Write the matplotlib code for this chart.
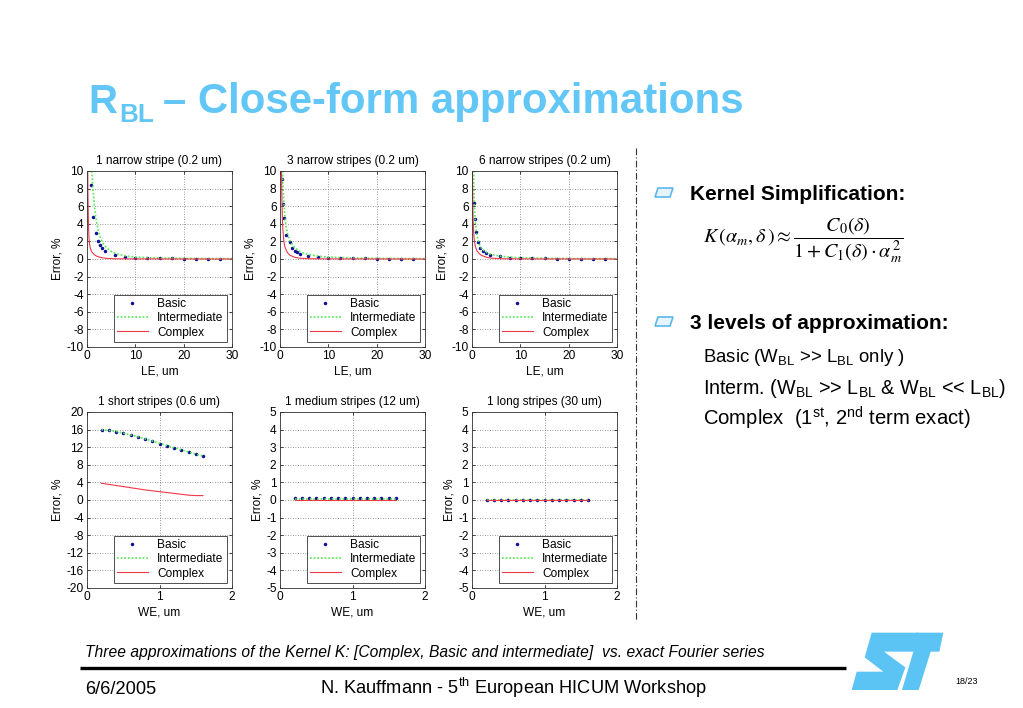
import matplotlib
matplotlib.use("Agg")
import matplotlib.pyplot as plt
from matplotlib.patches import Polygon
from matplotlib.lines import Line2D
from matplotlib import font_manager

# ---------------- data ----------------
# Row 1 : error vs LE (um)
le_basic_1 = [0.8, 1.2, 1.8, 2.3, 2.7, 3.2, 3.7, 5.8, 7.8, 10.0, 12.5, 15.0, 17.5, 20.0, 22.5, 25.0, 27.5]
basic_1 = [8.4, 4.8, 3.0, 2.1, 1.6, 1.3, 0.95, 0.45, 0.26, 0.15, 0.10, 0.08, 0.06, 0.05, 0.04, 0.04, 0.03]
le_int_1 = [1.0, 1.2, 1.5, 1.8, 2.2, 2.6, 3.0, 3.5, 4.0, 5.0, 6.0, 8.0, 10.0, 12.5, 15.0, 20.0, 25.0, 30.0]
int_1 = [10.0, 8.3, 6.2, 4.8, 3.5, 2.7, 2.1, 1.6, 1.3, 0.85, 0.6, 0.35, 0.22, 0.15, 0.11, 0.07, 0.05, 0.04]
le_cx_1 = [0.15, 0.2, 0.3, 0.4, 0.5, 0.7, 1.0, 1.5, 2.0, 3.0, 4.0, 6.0, 10.0, 20.0, 30.0]
cx_1 = [10.0, 7.0, 4.0, 2.5, 1.8, 1.2, 0.8, 0.5, 0.32, 0.15, 0.07, 0.02, 0.01, 0.0, 0.0]

le_basic_2 = [0.4, 0.6, 0.9, 1.3, 2.0, 2.5, 3.1, 3.6, 4.1, 5.8, 7.8, 10.0, 12.5, 15.0, 17.5, 20.0, 22.5, 25.0, 27.5]
basic_2 = [9.1, 6.3, 4.7, 2.7, 1.9, 1.3, 0.9, 0.75, 0.6, 0.35, 0.2, 0.15, 0.1, 0.08, 0.06, 0.05, 0.04, 0.04, 0.03]
le_int_2 = [0.5, 0.6, 0.8, 1.0, 1.3, 1.7, 2.2, 3.0, 4.0, 5.0, 6.0, 8.0, 10.0, 15.0, 20.0, 30.0]
int_2 = [10.0, 8.5, 6.3, 4.9, 3.5, 2.6, 1.9, 1.3, 0.9, 0.65, 0.5, 0.32, 0.22, 0.11, 0.07, 0.04]
le_cx_2 = [0.3, 0.4, 0.5, 0.6, 0.8, 1.0, 1.5, 2.0, 3.0, 4.0, 6.0, 10.0, 30.0]
cx_2 = [10.0, 6.5, 4.5, 3.3, 2.0, 1.4, 0.75, 0.45, 0.2, 0.1, 0.03, 0.01, 0.0]

le_basic_3 = [0.5, 0.7, 0.9, 1.2, 1.7, 2.3, 2.9, 3.7, 5.8, 7.9, 10.0, 12.5, 15.0, 17.5, 20.0, 22.5, 25.0, 27.5]
basic_3 = [6.4, 4.5, 3.1, 1.9, 1.3, 0.9, 0.7, 0.5, 0.3, 0.17, 0.12, 0.08, 0.06, 0.05, 0.04, 0.03, 0.03, 0.02]
le_int_3 = [0.3, 0.4, 0.5, 0.7, 1.0, 1.5, 2.0, 3.0, 4.0, 6.0, 8.0, 10.0, 15.0, 20.0, 30.0]
int_3 = [10.0, 7.8, 6.0, 4.0, 2.7, 1.7, 1.15, 0.75, 0.5, 0.3, 0.2, 0.14, 0.08, 0.05, 0.03]
le_cx_3 = [0.1, 0.15, 0.2, 0.3, 0.4, 0.5, 0.7, 1.0, 1.5, 2.0, 3.0, 4.0, 6.0, 10.0, 30.0]
cx_3 = [10.0, 7.0, 5.0, 3.5, 2.6, 2.0, 1.4, 0.95, 0.6, 0.4, 0.2, 0.1, 0.03, 0.01, 0.0]

# Row 2 : error vs WE (um)
we = [0.2, 0.3, 0.4, 0.5, 0.6, 0.7, 0.8, 0.9, 1.0, 1.1, 1.2, 1.3, 1.4, 1.5, 1.6]
basic_4 = [15.9, 15.8, 15.5, 15.2, 14.8, 14.3, 13.8, 13.3, 12.8, 12.3, 11.8, 11.3, 10.8, 10.4, 9.9]
int_4 = [16.0, 15.8, 15.6, 15.2, 14.8, 14.4, 13.9, 13.4, 12.9, 12.4, 11.9, 11.4, 10.9, 10.4, 10.0]
cx_4 = [3.8, 3.55, 3.3, 3.05, 2.8, 2.55, 2.3, 2.1, 1.9, 1.7, 1.5, 1.3, 1.1, 1.0, 1.0]

basic_5 = [0.11, 0.11, 0.12, 0.12, 0.12, 0.13, 0.13, 0.13, 0.13, 0.13, 0.13, 0.13, 0.13, 0.13, 0.13]
int_5 = [0.03, 0.03, 0.03, 0.03, 0.03, 0.03, 0.03, 0.03, 0.03, 0.03, 0.03, 0.03, 0.03, 0.03, 0.03]
cx_5 = [0.0, 0.0, 0.0, 0.0, 0.0, 0.0, 0.0, 0.0, 0.0, 0.0, 0.0, 0.0, 0.0, 0.0, 0.0]

basic_6 = [0.02, 0.02, 0.02, 0.02, 0.02, 0.02, 0.02, 0.02, 0.02, 0.02, 0.02, 0.02, 0.02, 0.02, 0.02]
int_6 = [0.01, 0.01, 0.01, 0.01, 0.01, 0.01, 0.01, 0.01, 0.01, 0.01, 0.01, 0.01, 0.01, 0.01, 0.01]
cx_6 = [0.0, 0.0, 0.0, 0.0, 0.0, 0.0, 0.0, 0.0, 0.0, 0.0, 0.0, 0.0, 0.0, 0.0, 0.0]

panel_titles = ["1 narrow stripe (0.2 um)", "3 narrow stripes (0.2 um)", "6 narrow stripes (0.2 um)",
                "1 short stripes (0.6 um)", "1 medium stripes (12 um)", "1 long stripes (30 um)"]
legend_labels = ["Basic", "Intermediate", "Complex"]
yticks_row1 = [-10, -8, -6, -4, -2, 0, 2, 4, 6, 8, 10]
yticks_short = [-20, -16, -12, -8, -4, 0, 4, 8, 12, 16, 20]
yticks_5 = [-5, -4, -3, -2, -1, 0, 1, 2, 3, 4, 5]
xticks_le = [0, 10, 20, 30]
xticks_we = [0, 1, 2]

# ---------------- style ----------------
names = {f.name for f in font_manager.fontManager.ttflist}
BASE = "Liberation Sans" if "Liberation Sans" in names else "DejaVu Sans"
NARROW = "Liberation Sans Narrow" if "Liberation Sans Narrow" in names else BASE
plt.rcParams["font.family"] = [BASE, "DejaVu Sans"]
plt.rcParams["axes.unicode_minus"] = False

W, H = 1023, 708
fig = plt.figure(figsize=(W / 100, H / 100), dpi=100)
fig.patch.set_facecolor("white")

def fx(x):
    return x / W

def fy(y):
    return 1 - y / H

def add_ax(l, t, r, b):
    return fig.add_axes([fx(l), fy(b), (r - l) / W, (b - t) / H])

C_BASIC = "#10109a"
C_INT = "#4eea4e"
C_CX = "#ee3848"
FS = 8.6
LIGHTBLUE = "#62c6f6"

cols = [(87, 232), (280, 425), (472, 617)]
rows = [(171, 347), (412, 588)]

panels = [
    (le_basic_1, basic_1, le_int_1, int_1, le_cx_1, cx_1),
    (le_basic_2, basic_2, le_int_2, int_2, le_cx_2, cx_2),
    (le_basic_3, basic_3, le_int_3, int_3, le_cx_3, cx_3),
    (we, basic_4, we, int_4, we, cx_4),
    (we, basic_5, we, int_5, we, cx_5),
    (we, basic_6, we, int_6, we, cx_6),
]
yt = [yticks_row1, yticks_row1, yticks_row1, yticks_short, yticks_5, yticks_5]

for i, (xb, yb, xi, yi, xc, yc) in enumerate(panels):
    r, c = divmod(i, 3)
    ax = add_ax(cols[c][0], rows[r][0], cols[c][1], rows[r][1])
    ax.plot(xb, yb, linestyle="none", marker="o", markersize=1.5, color=C_BASIC, label=legend_labels[0])
    ax.plot(xi, yi, linestyle=(0, (1, 1.2)), linewidth=1.2, color=C_INT, label=legend_labels[1])
    ax.plot(xc, yc, linestyle="-", linewidth=0.8, color=C_CX, label=legend_labels[2])
    if r == 0:
        ax.set_xlim(0, 30)
        ax.set_xticks(xticks_le)
        ax.set_xlabel("LE, um", fontsize=FS, labelpad=2.5)
    else:
        ax.set_xlim(0, 2)
        ax.set_xticks(xticks_we)
        ax.set_xlabel("WE, um", fontsize=FS, labelpad=2.5)
    ax.set_ylim(yt[i][0], yt[i][-1])
    ax.set_yticks(yt[i])
    ax.set_ylabel("Error, %", fontsize=FS, labelpad=2)
    ax.set_title(panel_titles[i], fontsize=FS, pad=5)
    ax.grid(True, linestyle=(0, (1, 2)), color="#777777", linewidth=0.6)
    ax.tick_params(direction="in", length=2.5, width=0.5, labelsize=FS, pad=2.5,
                   top=True, right=True)
    for s in ax.spines.values():
        s.set_linewidth(0.6)
        s.set_color("#333333")
    leg = ax.legend(loc="lower right", fontsize=FS, fancybox=False, framealpha=1,
                    edgecolor="#333333", handlelength=2.6, labelspacing=0.2,
                    borderpad=0.25, borderaxespad=0.45, handletextpad=0.8)
    leg.get_frame().set_linewidth(0.6)

# ---------------- slide decoration ----------------
def fit(t, target_px):
    fig.canvas.draw()
    bb = t.get_window_extent()
    t.set_fontsize(t.get_fontsize() * target_px / bb.width)

# Title
t_r = fig.text(fx(88), fy(113), "R", fontsize=33, fontweight="bold", color=LIGHTBLUE,
               family=NARROW, va="baseline", ha="left")
t_bl = fig.text(fx(119), fy(122), "BL", fontsize=21, fontweight="bold", color=LIGHTBLUE,
                family=NARROW, va="baseline", ha="left")
t_rest = fig.text(fx(163), fy(113), "\u2013 Close-form approximations", fontsize=33,
                  fontweight="bold", color=LIGHTBLUE, family=NARROW, va="baseline", ha="left")
fit(t_r, 29)
fit(t_bl, 35)
fit(t_rest, 582)

# vertical dash-dot separator
fig.add_artist(Line2D([fx(636), fx(636)], [fy(148), fy(620)], transform=fig.transFigure,
                      color="#333333", linewidth=0.8, linestyle=(0, (6, 2, 1, 2))))

# bullets
def bullet(xc, yc):
    pts = [(xc - 6, yc - 5), (xc + 9, yc - 5), (xc + 6, yc + 4), (xc - 9, yc + 4)]
    fig.add_artist(Polygon([(fx(x), fy(y)) for x, y in pts], closed=True,
                           transform=fig.transFigure, facecolor="#e6f4fd",
                           edgecolor="#5cb8ea", linewidth=1.2))

bullet(664, 193)
bullet(664, 322)

RFS = 13.3
h1 = fig.text(fx(690), fy(200), "Kernel Simplification:", fontsize=13, fontweight="bold",
              va="baseline", ha="left")
fit(h1, 214)
fig.text(fx(703), fy(240),
         r"$K\,(\alpha_m,\delta\,)\approx\dfrac{C_0(\delta)}{1+C_1(\delta)\cdot\alpha_m^{\,2}}$",
         fontsize=14.5, math_fontfamily="stix", va="center", ha="left")
h2 = fig.text(fx(690), fy(329), "3 levels of approximation:", fontsize=13, fontweight="bold",
              va="baseline", ha="left")
fit(h2, 257)
sub = r"$_{\mathregular{BL}}$"
b1 = fig.text(fx(703), fy(362), "Basic (W" + sub + " >> L" + sub + " only )", fontsize=RFS,
              va="baseline", ha="left")
fit(b1, 202)
b2 = fig.text(fx(703), fy(394), "Interm. (W" + sub + " >> L" + sub + " & W" + sub + " << L" + sub + ")",
              fontsize=RFS, va="baseline", ha="left")
fit(b2, 304)
b3 = fig.text(fx(703), fy(426), r"Complex  (1$^{\mathregular{st}}$, 2$^{\mathregular{nd}}$ term exact)",
              fontsize=RFS, va="baseline", ha="left")
fit(b3, 269)

# caption
cap = fig.text(fx(85), fy(657), "Three approximations of the Kernel K: [Complex, Basic and intermediate]  vs. exact Fourier series",
               fontsize=9.5, style="italic", va="baseline", ha="left")
fit(cap, 677)

# footer rule
fig.add_artist(Line2D([fx(80), fx(846)], [fy(668), fy(668)], transform=fig.transFigure,
                      color="black", linewidth=2.4, solid_capstyle="butt"))

nk = fig.text(fx(320), fy(694), r"N. Kauffmann - 5$^{\mathregular{th}}$ European HICUM Workshop",
              fontsize=12, va="baseline", ha="left")
fit(nk, 386)
fig.text(fx(85), fy(694), "6/6/2005", fontsize=nk.get_fontsize(), va="baseline", ha="left")
fig.text(fx(955), fy(684), "18/23", fontsize=6.5, va="baseline", ha="left")

# ST logo
def zc(pts):
    return [(fx(840 + zx / 3), fy(620 + zy / 3)) for zx, zy in pts]

S_shape = [(95, 38), (235, 38), (222, 95), (132, 95), (196, 142), (172, 210), (35, 210),
           (50, 155), (130, 155), (74, 112)]
T_shape = [(230, 38), (310, 38), (298, 95), (272, 95), (236, 210), (186, 210), (222, 88)]
for shp in (S_shape, T_shape):
    fig.add_artist(Polygon(zc(shp), closed=True, transform=fig.transFigure,
                           facecolor="#5cc4f4", edgecolor="none"))

fig.savefig("out.png", dpi=100, facecolor="white")
